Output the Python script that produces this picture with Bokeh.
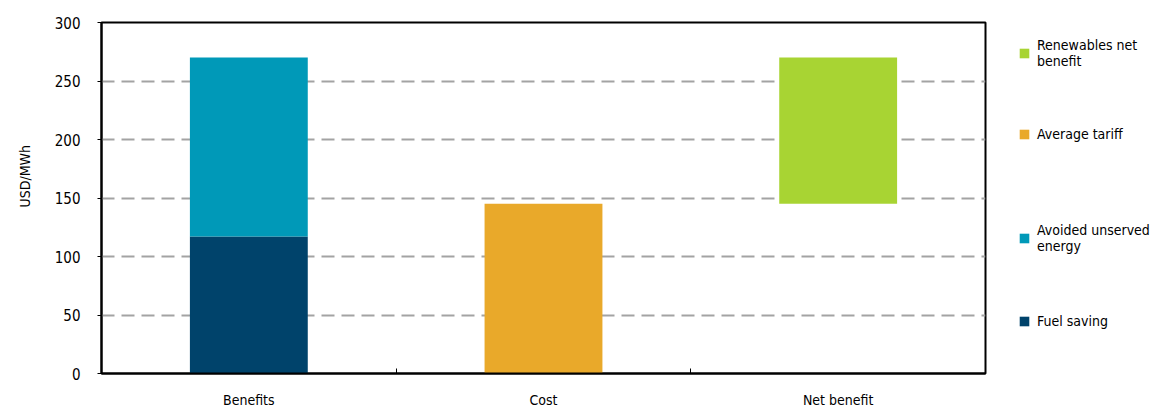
from bokeh.plotting import figure
from bokeh.layouts import row
from bokeh.models import Range1d, FixedTicker, Legend, LegendItem, Title
from bokeh.embed import file_html
from bokeh.resources import INLINE

# Values in USD/MWh
categories = ["Benefits", "Cost", "Net benefit"]
fuel_saving = 117
avoided_unserved_energy = 153
average_tariff = 145
renewables_net_benefit = fuel_saving + avoided_unserved_energy - average_tariff
y_ticks = [0, 50, 100, 150, 200, 250, 300]

FONT = "DejaVu Sans Condensed"
C_FUEL = "#00436b"
C_AVOIDED = "#0099b8"
C_TARIFF = "#e9a92a"
C_NET = "#a8d433"

centers = [i + 0.5 for i in range(len(categories))]
bounds = [i for i in range(1, len(categories))]
bar_w = 0.4

# stacked / floating bars: (category index, bottom, top, colour)
bars = {
    "fuel": (0, 0, fuel_saving, C_FUEL),
    "avoided": (0, fuel_saving, fuel_saving + avoided_unserved_energy, C_AVOIDED),
    "tariff": (1, 0, average_tariff, C_TARIFF),
    "net": (2, average_tariff, average_tariff + renewables_net_benefit, C_NET),
}

p = figure(
    width=987, height=410,
    x_range=Range1d(0, len(categories)), y_range=Range1d(0, 300),
    output_backend="svg", toolbar_location=None,
    min_border_left=101, min_border_right=2,
    min_border_top=22, min_border_bottom=37,
)
p.background_fill_color = "white"
p.border_fill_color = "white"
p.outline_line_color = "black"
p.outline_line_width = 2

for key, (ci, lo, hi, col) in bars.items():
    p.vbar(x=[centers[ci]], bottom=[lo], top=[hi], width=bar_w,
           fill_color=col, line_color=None)

# x axis: labels centred under each category, small ticks between categories
xa = p.xaxis[0]
xa.ticker = FixedTicker(ticks=centers, minor_ticks=bounds)
xa.major_label_overrides = {c: name for c, name in zip(centers, categories)}
xa.major_tick_in = 0
xa.major_tick_out = 0
xa.minor_tick_in = 5
xa.minor_tick_out = 0
xa.minor_tick_line_color = "black"
xa.minor_tick_line_width = 1
xa.axis_line_color = "black"
xa.axis_line_width = 2
xa.major_label_standoff = 18
xa.major_label_text_font = FONT
xa.major_label_text_font_size = "14px"
xa.major_label_text_color = "black"

ya = p.yaxis[0]
ya.ticker = FixedTicker(ticks=y_ticks)
ya.major_tick_in = 0
ya.major_tick_out = 4
ya.minor_tick_line_color = None
ya.axis_line_color = "black"
ya.axis_line_width = 2
ya.major_tick_line_width = 1
ya.major_label_standoff = 17
ya.major_label_text_font = FONT
ya.major_label_text_font_size = "15px"
ya.major_label_text_color = "black"

# vertical unit label, placed left of the tick labels
p.add_layout(Title(text="USD/MWh", text_font=FONT, text_font_size="14px",
                   text_font_style="normal", text_color="black",
                   align="left", offset=166, vertical_align="top",
                   standoff=33), "left")

p.xgrid.visible = False
p.ygrid.ticker = FixedTicker(ticks=y_ticks[1:-1])
p.ygrid.grid_line_color = "#a3a3a3"
p.ygrid.grid_line_width = 2
p.ygrid.grid_line_dash = "13 7"

# legend panel to the right of the chart; hidden copies of the bars supply
# the legend swatches
lp = figure(
    width=165, height=410,
    x_range=Range1d(0, len(categories)), y_range=Range1d(0, 300),
    output_backend="svg", toolbar_location=None,
    x_axis_location=None, y_axis_location=None,
    min_border=0,
)
lp.outline_line_color = None
lp.grid.visible = False
lp.background_fill_color = "white"
lp.border_fill_color = "white"

swatch = {}
for key, (ci, lo, hi, col) in bars.items():
    swatch[key] = lp.vbar(x=[centers[ci]], bottom=[lo], top=[hi], width=bar_w,
                          fill_color=col, line_color=None, visible=False)

entries = [
    ("Renewables net\nbenefit", "net", 43, 2),
    ("Average tariff", "tariff", 133, 1),
    ("Avoided unserved\nenergy", "avoided", 228, 2),
    ("Fuel saving", "fuel", 320, 1),
]
line_h = 17
frame_bottom = 373
for label, key, first_line_y, n_lines in entries:
    top = first_line_y - line_h / 2
    bottom = top + n_lines * line_h
    lg = Legend(
        items=[LegendItem(label=label, renderers=[swatch[key]])],
        location=(31, frame_bottom - bottom),
        glyph_width=12, glyph_height=12, label_standoff=7,
        padding=0, margin=0, spacing=0,
        border_line_color=None, background_fill_alpha=0,
        label_text_font=FONT, label_text_font_size="14px",
        label_text_color="black",
    )
    lp.add_layout(lg)

layout = row(p, lp)
open("out.html", "w").write(file_html(layout, INLINE))
